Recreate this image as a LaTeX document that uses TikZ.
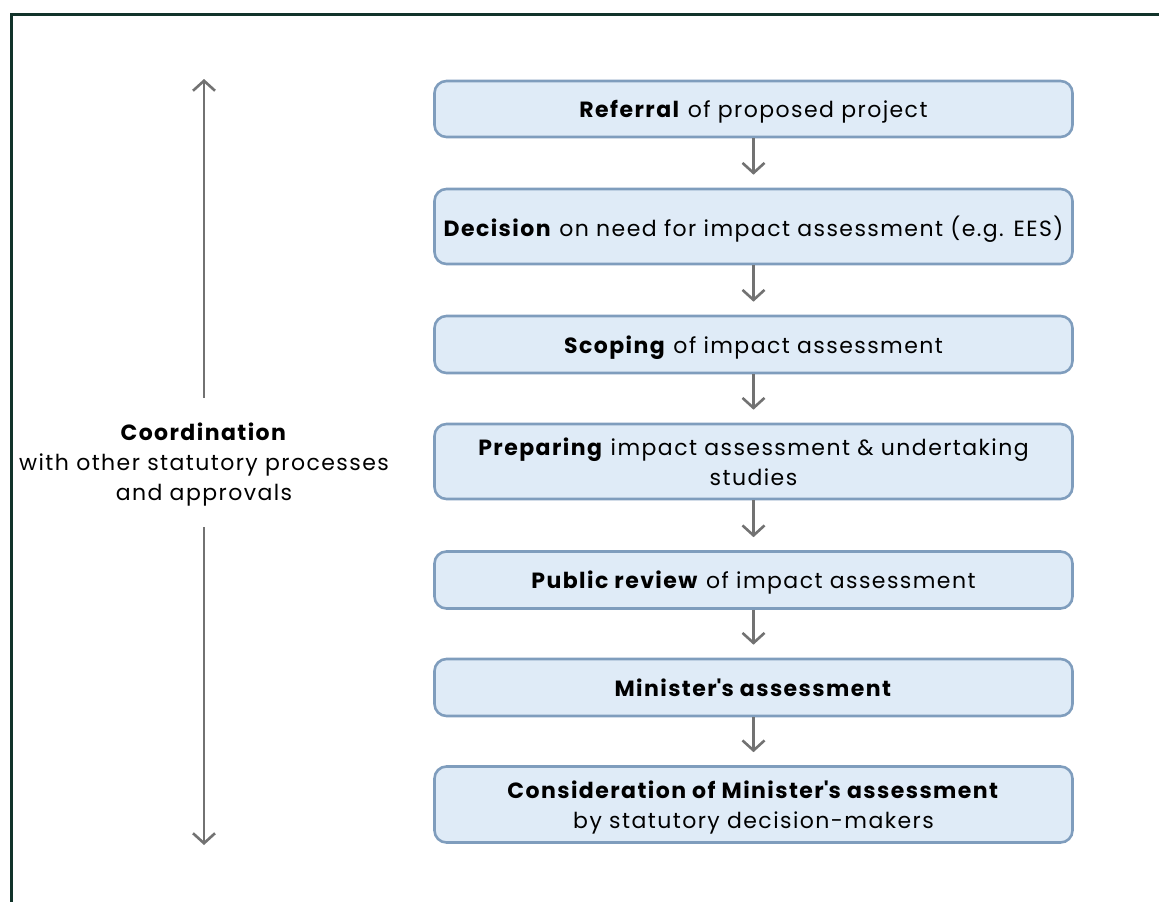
\documentclass[tikz,border=0pt]{standalone}
\usepackage{fontspec}
\setmainfont{Poppins}[LetterSpace=6.5]
\usetikzlibrary{arrows.meta}
\definecolor{framegreen}{HTML}{12332A}
\definecolor{boxfill}{HTML}{DFEBF7}
\definecolor{boxline}{HTML}{7F9DBD}
\definecolor{arrowgray}{HTML}{727272}
\tikzset{
  stepbox/.style={draw=boxline, line width=2.6pt, fill=boxfill, rounded corners=12pt,
    minimum width=638pt, align=center, inner sep=0pt, text depth=0pt, font=\fontsize{22}{30}\selectfont},
  flowarrow/.style={draw=arrowgray, line width=2.6pt, -{Straight Barb[length=10pt,width=22pt,line width=2.6pt]}},
  sidearrow/.style={draw=arrowgray, line width=2.6pt, -{Straight Barb[length=10pt,width=22pt,line width=2.6pt]}},
}
\begin{document}
\begin{tikzpicture}[x=1pt,y=-1pt]
\useasboundingbox (0,0) rectangle (1159,902);
% frame
\draw[framegreen, line width=3pt] (11,910) -- (11,14.5) -- (1170,14.5);
% boxes
\node[stepbox, minimum height=56pt] (b1) at (753.5,109) {\textbf{Referral} of proposed project};
\node[stepbox, minimum height=75pt] (b2) at (753.5,226.5) {\textbf{Decision} on need for impact assessment (e.g. EES)};
\node[stepbox, minimum height=57pt] (b3) at (753.5,344.5) {\textbf{Scoping} of impact assessment};
\node[stepbox, minimum height=75pt] (b4) at (753.5,461.5) {\textbf{Preparing} impact assessment \& undertaking\\studies};
\node[stepbox, minimum height=57pt] (b5) at (753.5,580) {\textbf{Public review} of impact assessment};
\node[stepbox, minimum height=57pt] (b6) at (753.5,687.5) {\textbf{Minister\textquotesingle s assessment}};
\node[stepbox, minimum height=76pt] (b7) at (753.5,804.5) {\textbf{Consideration of Minister\textquotesingle s assessment}\\by statutory decision-makers};
% flow arrows
\foreach \a/\b in {b1/b2,b2/b3,b3/b4,b4/b5,b5/b6,b6/b7}{
  \draw[flowarrow, shorten >=13pt] (\a.south) -- (\b.north);
}
% side label
\node[align=center, font=\fontsize{22}{30}\selectfont] (coord) at (204,465) {\textbf{Coordination}\\with other statutory processes\\and approvals};
\coordinate (ctop) at (204,79);
\coordinate (cbot) at (204,845);
\draw[sidearrow] (204,398) -- (ctop);
\draw[sidearrow] (204,527) -- (cbot);
\end{tikzpicture}
\end{document}
